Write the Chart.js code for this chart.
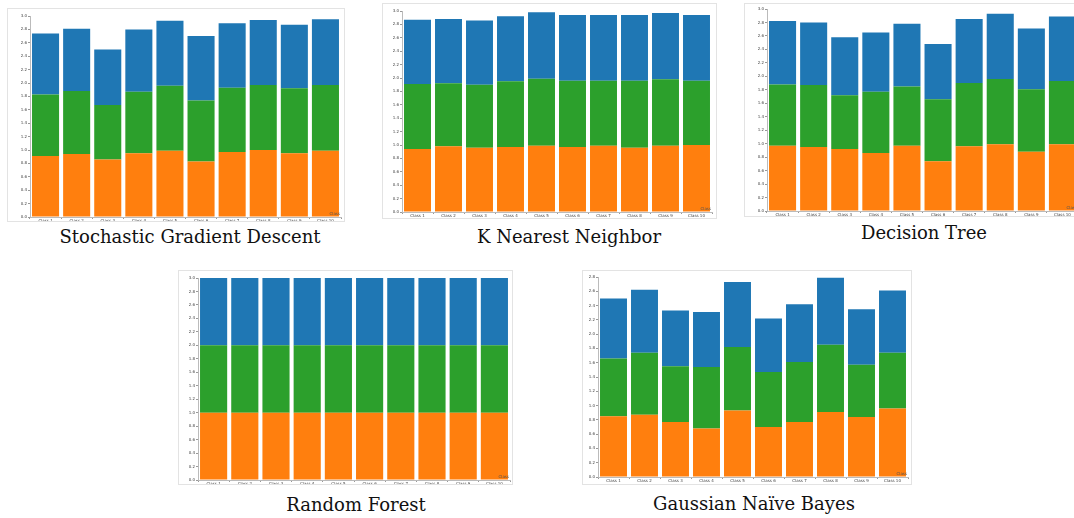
<!DOCTYPE html>
<html><head><meta charset="utf-8">
<script src="https://cdn.jsdelivr.net/npm/chart.js@4/dist/chart.umd.min.js"></script>
<style>
html,body{margin:0;padding:0;background:#fff;}
body{width:1074px;height:518px;overflow:hidden;position:relative;}
.panel{position:absolute;border:1px solid #e3e3e3;background:#fff;}
.panel canvas{display:block;}
.title{position:absolute;transform:translate(-50%,-50%);white-space:nowrap;font-family:"DejaVu Serif",serif;font-size:18px;color:#111;line-height:1;}
</style></head><body>
<div class="panel" id="p-sgd"><canvas id="c-sgd"></canvas></div>
<div class="panel" id="p-knn"><canvas id="c-knn"></canvas></div>
<div class="panel" id="p-dt"><canvas id="c-dt"></canvas></div>
<div class="panel" id="p-rf"><canvas id="c-rf"></canvas></div>
<div class="panel" id="p-gnb"><canvas id="c-gnb"></canvas></div>
<div class="title" id="t-sgd">Stochastic Gradient Descent</div>
<div class="title" id="t-knn">K Nearest Neighbor</div>
<div class="title" id="t-dt">Decision Tree</div>
<div class="title" id="t-rf">Random Forest</div>
<div class="title" id="t-gnb">Gaussian Naïve Bayes</div>
<script>
// ---- data ----
const categories = ['Class 1','Class 2','Class 3','Class 4','Class 5','Class 6','Class 7','Class 8','Class 9','Class 10'];
const axisLabel = 'Class';
const seriesColors = ['#ff7f0e', '#2ca02c', '#1f77b4']; // bottom, middle, top

const sgdBottom = [0.91, 0.94, 0.86, 0.95, 0.99, 0.83, 0.97, 1.00, 0.95, 0.99];
const sgdMiddle = [0.92, 0.94, 0.81, 0.92, 0.97, 0.91, 0.96, 0.97, 0.97, 0.98];
const sgdTop    = [0.91, 0.93, 0.83, 0.93, 0.97, 0.96, 0.96, 0.97, 0.95, 0.98];
const sgdAxisMax = 3.0;

const knnBottom = [0.94, 0.98, 0.96, 0.97, 0.99, 0.97, 0.99, 0.96, 0.99, 1.00];
const knnMiddle = [0.97, 0.94, 0.94, 0.98, 1.00, 0.99, 0.97, 1.00, 0.99, 0.96];
const knnTop    = [0.96, 0.96, 0.96, 0.97, 0.99, 0.98, 0.98, 0.98, 0.99, 0.98];
const knnAxisMax = 3.0;

const dtBottom = [0.97, 0.95, 0.92, 0.86, 0.97, 0.74, 0.96, 0.99, 0.88, 0.99];
const dtMiddle = [0.91, 0.92, 0.80, 0.91, 0.88, 0.92, 0.94, 0.97, 0.93, 0.94];
const dtTop    = [0.94, 0.93, 0.86, 0.88, 0.93, 0.82, 0.95, 0.97, 0.90, 0.96];
const dtAxisMax = 3.0;

const rfBottom = [1, 1, 1, 1, 1, 1, 1, 1, 1, 1];
const rfMiddle = [1, 1, 1, 1, 1, 1, 1, 1, 1, 1];
const rfTop    = [1, 1, 1, 1, 1, 1, 1, 1, 1, 1];
const rfAxisMax = 3.0;

const gnbBottom = [0.85, 0.87, 0.77, 0.68, 0.93, 0.70, 0.77, 0.91, 0.84, 0.96];
const gnbMiddle = [0.81, 0.87, 0.78, 0.86, 0.89, 0.77, 0.84, 0.94, 0.73, 0.78];
const gnbTop    = [0.84, 0.88, 0.78, 0.77, 0.91, 0.75, 0.81, 0.94, 0.78, 0.87];
const gnbAxisMax = 2.8;

const tickStep = 0.2;

// ---- layout (panel boxes and plot insets) ----
const panels = [
  {id:'sgd', box:[7,8,338,214],   inset:{l:23,t:8,r:4,b:5},  title:[190,237], data:[sgdBottom,sgdMiddle,sgdTop], max:sgdAxisMax},
  {id:'knn', box:[382,3,335,216], inset:{l:20,t:8,r:5,b:7},  title:[569,237], data:[knnBottom,knnMiddle,knnTop], max:knnAxisMax},
  {id:'dt',  box:[744,3,340,214], inset:{l:23,t:6,r:6,b:6},  title:[924,233], data:[dtBottom,dtMiddle,dtTop],   max:dtAxisMax},
  {id:'rf',  box:[178,270,335,215], inset:{l:20,t:8,r:3,b:5}, title:[356,505], data:[rfBottom,rfMiddle,rfTop],   max:rfAxisMax},
  {id:'gnb', box:[582,270,330,215], inset:{l:16,t:7,r:4,b:8}, title:[754,504], data:[gnbBottom,gnbMiddle,gnbTop], max:gnbAxisMax}
];

const cornerLabel = {
  id:'cornerLabel',
  afterDraw(chart){
    const a = chart.chartArea, ctx = chart.ctx;
    ctx.save();
    ctx.font = '4px "DejaVu Sans", sans-serif';
    ctx.fillStyle = '#555';
    ctx.textAlign = 'right';
    ctx.textBaseline = 'bottom';
    ctx.fillText(axisLabel, a.right - 1, a.bottom - 1);
    ctx.restore();
  }
};

panels.forEach(p => {
  const el = document.getElementById('p-' + p.id);
  const [x, y, w, h] = p.box;
  el.style.left = x + 'px'; el.style.top = y + 'px';
  el.style.width = (w - 2) + 'px'; el.style.height = (h - 2) + 'px';
  const cv = document.getElementById('c-' + p.id);
  cv.width = w - 2; cv.height = h - 2;
  const t = document.getElementById('t-' + p.id);
  t.style.left = p.title[0] + 'px'; t.style.top = p.title[1] + 'px';

  new Chart(cv, {
    type: 'bar',
    data: {
      labels: categories,
      datasets: p.data.map((d, i) => ({
        data: d,
        backgroundColor: seriesColors[i],
        borderWidth: 0,
        categoryPercentage: 0.87,
        barPercentage: 1.0
      }))
    },
    options: {
      responsive: false,
      animation: false,
      devicePixelRatio: 1,
      layout: {padding: {top: p.inset.t - 1, right: p.inset.r - 1, left: 0, bottom: 0}},
      plugins: {legend: {display: false}, tooltip: {enabled: false}},
      scales: {
        x: {
          stacked: true,
          grid: {display: true, drawOnChartArea: false, tickLength: 2, color: '#999'},
          border: {display: true, color: '#bbb'},
          ticks: {font: {size: 4, family: 'DejaVu Sans'}, color: '#444', maxRotation: 0, autoSkip: false, padding: 0},
          afterFit: s => { s.height = p.inset.b - 1; }
        },
        y: {
          stacked: true,
          min: 0, max: p.max,
          grid: {display: true, drawOnChartArea: false, tickLength: 2, color: '#999'},
          border: {display: true, color: '#bbb'},
          ticks: {stepSize: tickStep, font: {size: 4, family: 'DejaVu Sans'}, color: '#444', padding: 1,
                  callback: v => v.toFixed(1), autoSkip: false},
          afterFit: s => { s.width = p.inset.l - 1; }
        }
      }
    },
    plugins: [cornerLabel]
  });
});
</script>
</body></html>
